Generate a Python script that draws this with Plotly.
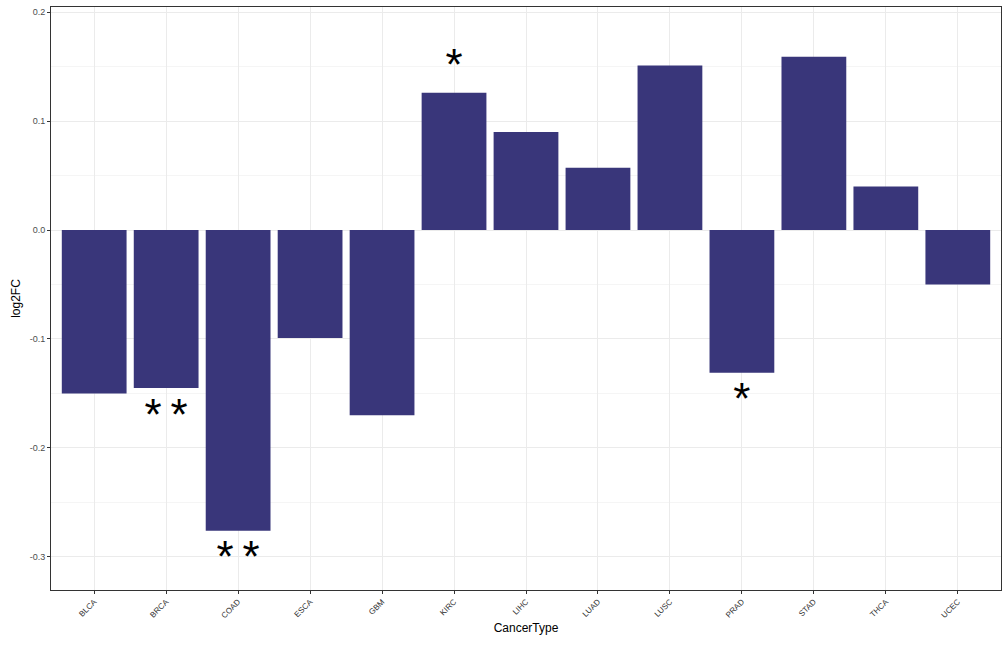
import plotly.graph_objects as go

cancer_types = ["BLCA", "BRCA", "COAD", "ESCA", "GBM", "KIRC", "LIHC",
                "LUAD", "LUSC", "PRAD", "STAD", "THCA", "UCEC"]
log2fc = [-0.150, -0.145, -0.276, -0.099, -0.170, 0.126, 0.090,
          0.057, 0.151, -0.131, 0.159, 0.040, -0.050]
signif = ["", "**", "**", "", "", "*", "", "", "", "*", "", "", ""]

BAR_COLOR = "#39367A"
FONT = "Liberation Sans, Arial, sans-serif"

fig = go.Figure()
fig.add_trace(go.Bar(
    x=cancer_types, y=log2fc, width=0.9,
    marker=dict(color=BAR_COLOR, line=dict(width=0)),
    hoverinfo="x+y", showlegend=False,
))

# significance stars
star_x, star_y, star_t = [], [], []
for c, v, s in zip(cancer_types, log2fc, signif):
    if s:
        star_x.append(c)
        star_y.append(v + 0.022 if v > 0 else v - 0.028)
        star_t.append("\u2009".join(s))
fig.add_trace(go.Scatter(
    x=star_x, y=star_y, text=star_t, mode="text",
    textposition="middle center",
    textfont=dict(size=44, color="black", family=FONT),
    hoverinfo="skip", showlegend=False,
))

grid = "#EBEBEB"
fig.update_layout(
    width=1008, height=650,
    margin=dict(l=51, r=7, t=7, b=60),
    plot_bgcolor="white", paper_bgcolor="white",
    font=dict(family=FONT),
    bargap=0.1,
)
fig.update_xaxes(
    range=[-0.6, 12.6], automargin=False,
    showgrid=True, gridcolor=grid, gridwidth=1,
    showline=True, linecolor="#333333", linewidth=1, mirror=True,
    ticks="outside", ticklen=3, tickcolor="#333333",
    tickangle=-45, tickfont=dict(size=8, color="#333333"),
    title=dict(text="CancerType", font=dict(size=12, color="black"), standoff=4),
    zeroline=False,
)
fig.update_yaxes(
    range=[-0.3303, 0.2046], automargin=False,
    tickvals=[-0.3, -0.2, -0.1, 0.0, 0.1, 0.2],
    ticktext=["-0.3", "-0.2", "-0.1", "0.0", "0.1", "0.2"],
    showgrid=True, gridcolor=grid, gridwidth=1,
    minor=dict(tickvals=[-0.25, -0.15, -0.05, 0.05, 0.15], showgrid=True,
               gridcolor="#F5F5F5", gridwidth=1, ticks=""),
    showline=True, linecolor="#333333", linewidth=1, mirror=True,
    ticks="outside", ticklen=3, tickcolor="#333333",
    tickfont=dict(size=9, color="#4D4D4D"),
    title=dict(text="log2FC", font=dict(size=12, color="black"), standoff=6),
    zeroline=False,
)

fig.write_html("out.html", config={"displayModeBar": False},
               post_script="document.body.style.margin='0';document.body.style.overflow='hidden';")
